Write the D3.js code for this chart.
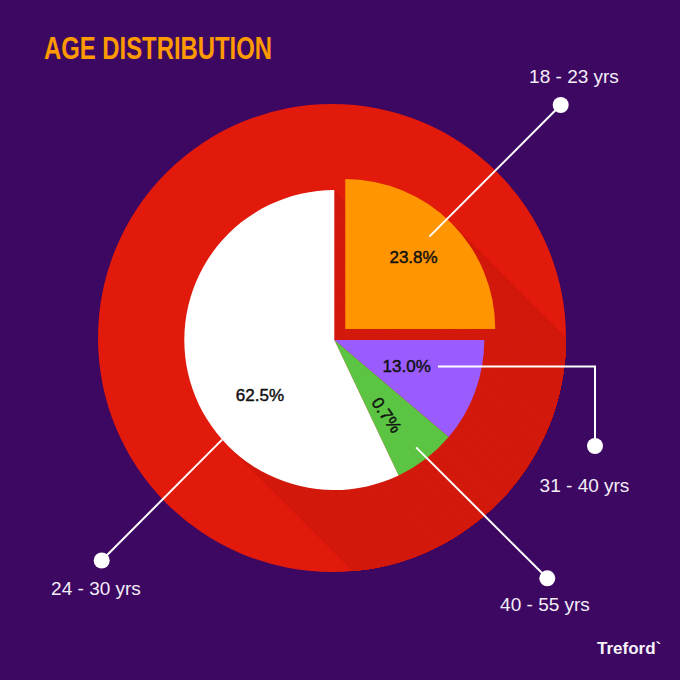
<!DOCTYPE html>
<html>
<head>
<meta charset="utf-8">
<script src="https://cdn.jsdelivr.net/npm/d3@7"></script>
<style>
  html, body { margin: 0; padding: 0; background: #3d0862; }
  svg { display: block; }
</style>
</head>
<body>
<svg id="chart" width="680" height="680"></svg>
<script>
// ---- data ----
const categories    = ["18 - 23 yrs", "31 - 40 yrs", "40 - 55 yrs", "24 - 30 yrs"];
const percentLabels = ["23.8%", "13.0%", "0.7%", "62.5%"];
// angular share of each slice as drawn in the reference (percent of the full circle)
const sliceShares   = [25.0, 11.2, 6.75, 57.05];
const sliceColors   = ["#ff9500", "#9b5cff", "#5bc443", "#ffffff"];
const titleText     = "AGE DISTRIBUTION";
const brandText     = "Treford`";

// ---- layout ----
const W = 680, H = 680;
const cx = 334.3, cy = 340;      // pie centre
const ringR = 234, ringCx = 332, ringCy = 338;
const pieR = 150;
const explode = [15.5, 0, 0, 0];
const bg = "#3d0862", ringColor = "#e21a0c", shadowColor = "#d2190c";

// label placement: polar (angle in degrees clockwise from top, radius) around each slice's origin
const pctPos = [
  {a: 43.6, r: 99, rot: 0},
  {a: 110, r: 77, rot: 0},
  {a: 145, r: 91.5, rot: 55},
  {a: 233.5, r: 92.5, rot: 0}
];
const leaderStart = [
  {a: 42.3, r: 125},
  {a: 104.4, r: 107},
  {a: 142.7, r: 135},
  {a: 228.4, r: 150}
];
const leaderDot = [[560.7, 105], [595, 446], [547.3, 578.3], [101.7, 560.5]];
const catText = [[574, 83, "middle"], [584.5, 492, "middle"], [545, 611, "middle"], [96, 595, "middle"]];

const svg = d3.select("#chart");
svg.append("rect").attr("width", W).attr("height", H).attr("fill", bg);

const pie = d3.pie().sort(null).value(d => d.share);
const arcs = pie(categories.map((c, i) => ({cat: c, share: sliceShares[i], label: percentLabels[i], color: sliceColors[i], ex: explode[i]})));
const arc = d3.arc().innerRadius(0).outerRadius(pieR);

function polar(a, r) {
  const t = a * Math.PI / 180;
  return [Math.sin(t) * r, -Math.cos(t) * r];
}
function origin(d) {
  const mid = (d.startAngle + d.endAngle) / 2;
  return [cx + Math.sin(mid) * d.data.ex, cy - Math.cos(mid) * d.data.ex];
}

// red ring disc
svg.append("circle").attr("cx", ringCx).attr("cy", ringCy).attr("r", ringR).attr("fill", ringColor);

// long shadow, clipped to the disc
svg.append("clipPath").attr("id", "ringClip")
  .append("circle").attr("cx", ringCx).attr("cy", ringCy).attr("r", ringR);
const shadow = svg.append("g").attr("clip-path", "url(#ringClip)");
const steps = d3.range(0, 300, 2);
arcs.forEach(d => {
  const o = origin(d);
  shadow.selectAll(null).data(steps).enter().append("path")
    .attr("d", arc(d))
    .attr("transform", k => `translate(${o[0] + k},${o[1] + k})`)
    .attr("fill", shadowColor);
});

// slices
svg.append("g").selectAll("path").data(arcs).enter().append("path")
  .attr("d", arc)
  .attr("transform", d => { const o = origin(d); return `translate(${o[0]},${o[1]})`; })
  .attr("fill", d => d.data.color);

// percent labels
arcs.forEach((d, i) => {
  const o = origin(d);
  const p = polar(pctPos[i].a, pctPos[i].r);
  svg.append("text")
    .attr("transform", `translate(${o[0] + p[0]},${o[1] + p[1]}) rotate(${pctPos[i].rot})`)
    .attr("text-anchor", "middle")
    .attr("dy", "0.36em")
    .attr("font-family", "'Liberation Sans', Arial, Helvetica, sans-serif")
    .attr("font-size", 17)
    .attr("fill", "#111111")
    .attr("stroke", "#111111")
    .attr("stroke-width", 0.45)
    .text(d.data.label);
});

// leader lines, dots and category labels
arcs.forEach((d, i) => {
  const o = origin(d);
  const p = polar(leaderStart[i].a, leaderStart[i].r);
  const s = [o[0] + p[0], o[1] + p[1]];
  const e = leaderDot[i];
  let pts;
  if (i === 1) pts = [s, [e[0], s[1]], e];     // elbow line for 31 - 40 yrs
  else pts = [s, e];
  svg.append("path")
    .attr("d", d3.line()(pts))
    .attr("fill", "none")
    .attr("stroke", "#ffffff")
    .attr("stroke-width", 2);
  svg.append("circle").attr("cx", e[0]).attr("cy", e[1]).attr("r", 8).attr("fill", "#ffffff");
  svg.append("text")
    .attr("x", catText[i][0]).attr("y", catText[i][1])
    .attr("text-anchor", catText[i][2])
    .attr("font-family", "'Liberation Sans', Arial, Helvetica, sans-serif")
    .attr("font-size", 19)
    .attr("fill", "#f4eef8")
    .text(d.data.cat);
});

// title (bold sans, horizontally condensed)
svg.append("text")
  .attr("x", 44).attr("y", 59)
  .attr("font-family", "'Liberation Sans', Arial, Helvetica, sans-serif")
  .attr("font-weight", "bold")
  .attr("font-size", 30.5)
  .attr("textLength", 228)
  .attr("lengthAdjust", "spacingAndGlyphs")
  .attr("fill", "#ff9a00")
  .text(titleText);

// brand
svg.append("text")
  .attr("x", 597).attr("y", 654)
  .attr("font-family", "'Liberation Sans', Arial, sans-serif")
  .attr("font-weight", "bold")
  .attr("font-size", 17)
  .attr("fill", "#f6f2fa")
  .text(brandText);
</script>
</body>
</html>
